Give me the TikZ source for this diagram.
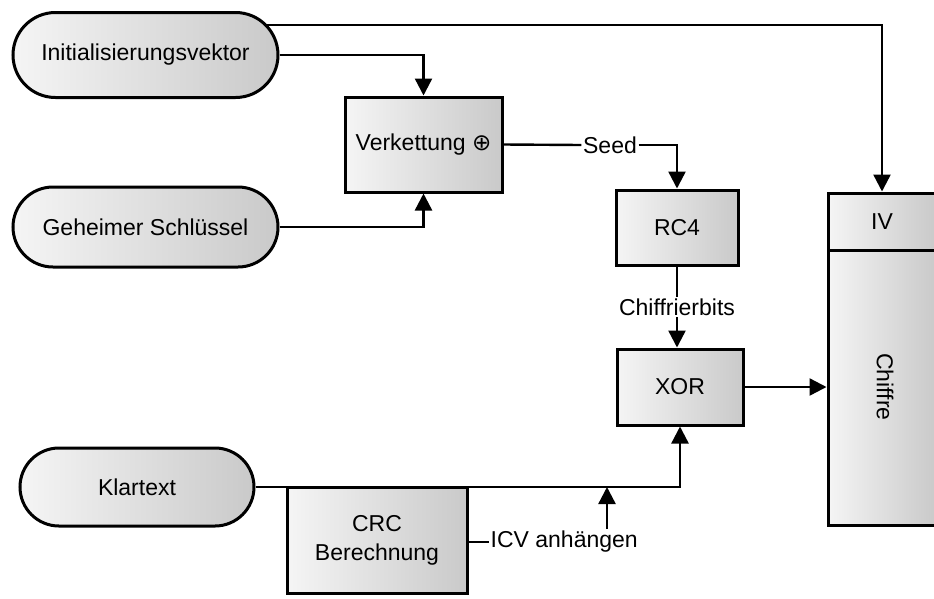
\documentclass[tikz,border=0pt]{standalone}
\usepackage{fontspec}
\setmainfont{Liberation Sans}
\newfontfamily\symfont{DejaVu Sans}
\usetikzlibrary{shapes.misc,arrows.meta,calc}
\begin{document}
\begin{tikzpicture}[x=1pt,y=-1pt,
  font=\fontsize{23}{29}\selectfont,
  box/.style={draw=black, line width=3pt, left color=gray!8, right color=gray!42, inner sep=0pt},
  pill/.style={box, rounded rectangle},
  conn/.style={line width=2.4pt, draw=black},
  arr/.style={conn, -{Triangle[length=17pt,width=17pt]}},
  lbl/.style={inner sep=1.5pt}
]
\useasboundingbox (0,0) rectangle (934,598);
\node[pill, minimum width=265pt, minimum height=85pt] (init) at (145.5,55) {Initialisierungsvektor};
\node[pill, minimum width=265pt, minimum height=80pt] (key) at (145.5,227) {Geheimer Schlüssel};
\node[pill, minimum width=234pt, minimum height=78pt] (klar) at (137,487) {Klartext};
\node[box, minimum width=157pt, minimum height=95pt] (verk) at (423.5,144.5) {Verkettung {\symfont ⊕}};
\node[box, minimum width=122pt, minimum height=75pt] (rc4) at (677,227.5) {RC4};
\node[box, minimum width=126pt, minimum height=76pt] (xor) at (680,387) {XOR};
\node[box, minimum width=180pt, minimum height=106pt, align=center] (crc) at (377,540) {CRC\\Berechnung};
\node[box, minimum width=108pt, minimum height=57pt] (iv) at (882,221.5) {IV};
\node[box, minimum width=108pt, minimum height=275pt] (chif) at (882,387.5) {};
\node[rotate=-90, inner sep=0pt] (chiftxt) at (885,387) {Chiffre};
\node[lbl] (seed) at (610,145) {Seed};
\node[lbl] (chbits) at (677,307) {Chiffrierbits};
\node[lbl, anchor=west] (icv) at (489,542) {ICV anhängen};
\coordinate (ivstart) at ($(init.east)+(-12.4,-30)$);
\coordinate (icvup) at (607,529);
\draw[arr] (ivstart) -| (iv.north);
\draw[arr] (init.east) -| (verk.north);
\draw[arr] (key.east) -| (verk.south);
\draw[conn] (verk.east) -- (seed.west);
\draw[arr] (seed.east) -| (rc4.north);
\draw[conn] (rc4.south) -- (chbits.north);
\draw[arr] (chbits.south) -- (chbits.south |- xor.north);
\draw[arr] (xor.east) -- (chif.west |- xor.east);
\draw[arr] (klar.east) -| (xor.south);
\draw[conn] (crc.east |- icv.west) -- (icv.west);
\draw[arr] (icvup) -- (icvup |- klar.east);
\end{tikzpicture}
\end{document}
